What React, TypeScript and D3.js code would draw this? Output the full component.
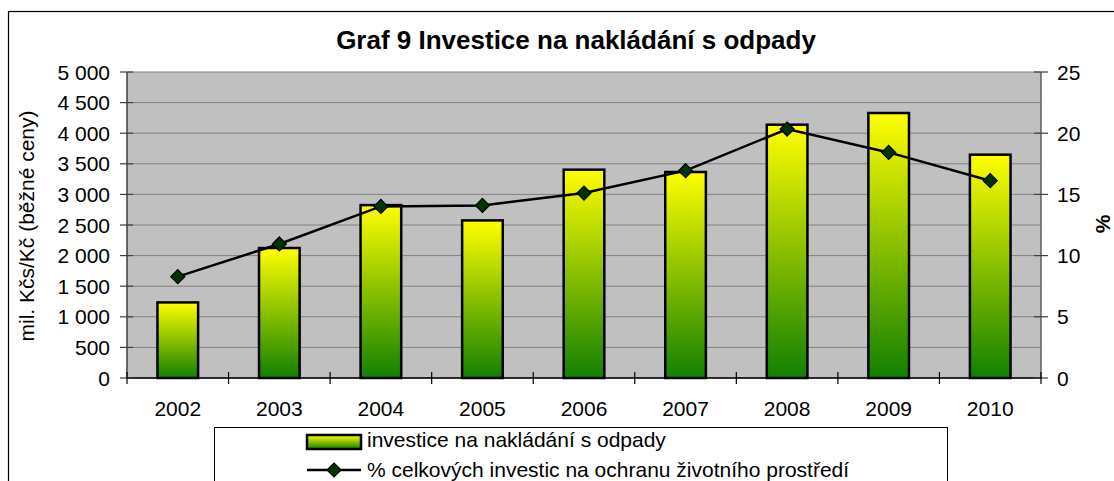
import * as d3 from "d3";

const years = ["2002", "2003", "2004", "2005", "2006", "2007", "2008", "2009", "2010"];
const investice = [1235, 2124, 2825, 2575, 3404, 3366, 4139, 4330, 3649];
const podil = [8.28, 10.95, 14.02, 14.1, 15.11, 16.94, 20.34, 18.43, 16.12];
const leftTicks = [0, 500, 1000, 1500, 2000, 2500, 3000, 3500, 4000, 4500, 5000];
const rightTicks = [0, 5, 10, 15, 20, 25];

const W = 1114;
const H = 481;
const plot = { left: 127, right: 1041, top: 72, bottom: 378 };
const font = "Arial, 'Liberation Sans', sans-serif";

const App = () => {
  const x = d3.scaleBand().domain(years).range([plot.left, plot.right]).paddingInner(0.6).paddingOuter(0.3);
  const band = d3.scaleBand().domain(years).range([plot.left, plot.right]);
  const yL = d3.scaleLinear().domain([0, 5000]).range([plot.bottom, plot.top]);
  const yR = d3.scaleLinear().domain([0, 25]).range([plot.bottom, plot.top]);

  const line = d3
    .line<number>()
    .x((_, i) => band(years[i])! + band.bandwidth() / 2)
    .y((d) => yR(d));

  const diamond = (cx: number, cy: number, r: number) =>
    `M${cx},${cy - r}L${cx + r},${cy}L${cx},${cy + r}L${cx - r},${cy}Z`;

  const fmt = (v: number) => d3.format(",")(v).replace(/,/g, " ");

  return (
    <svg width={W} height={H} style={{ position: "absolute", left: 0, top: 0 }} fontFamily={font}>
      <defs>
        <linearGradient id="barGrad" x1="0" y1="0" x2="0" y2="1">
          <stop offset="0" stopColor="#ffff00" />
          <stop offset="1" stopColor="#138000" />
        </linearGradient>
      </defs>
      <rect x={0} y={0} width={W} height={H} fill="#fff" />
      {/* outer chart border */}
      <rect x={8.5} y={11.5} width={W + 10} height={H} fill="none" stroke="#000" strokeWidth={1.2} />

      <text x={(plot.left + plot.right) / 2 - 8} y={49} textAnchor="middle" fontSize={26} fontWeight="bold">
        Graf 9 Investice na nakládání s odpady
      </text>

      {/* plot area */}
      <rect x={plot.left} y={plot.top} width={plot.right - plot.left} height={plot.bottom - plot.top} fill="#c0c0c0" />
      {leftTicks.map((t) => (
        <line key={t} x1={plot.left} x2={plot.right} y1={yL(t)} y2={yL(t)} stroke="#808080" strokeWidth={1} />
      ))}

      {/* bars */}
      {investice.map((v, i) => (
        <rect
          key={years[i]}
          x={x(years[i])}
          y={yL(v)}
          width={x.bandwidth()}
          height={plot.bottom - yL(v)}
          fill="url(#barGrad)"
          stroke="#000"
          strokeWidth={2.5}
        />
      ))}

      {/* line series */}
      <path d={line(podil) || ""} fill="none" stroke="#000" strokeWidth={2.5} />
      {podil.map((v, i) => (
        <path
          key={years[i]}
          d={diamond(band(years[i])! + band.bandwidth() / 2, yR(v), 7)}
          fill="#003300"
          stroke="#000"
          strokeWidth={1.2}
        />
      ))}

      {/* axes */}
      <line x1={plot.left} x2={plot.left} y1={plot.top} y2={plot.bottom} stroke="#404040" strokeWidth={1.5} />
      <line x1={plot.right} x2={plot.right} y1={plot.top} y2={plot.bottom} stroke="#606060" strokeWidth={1.5} />
      <line x1={plot.left} x2={plot.right} y1={plot.bottom} y2={plot.bottom} stroke="#000" strokeWidth={1.5} />

      {leftTicks.map((t) => (
        <g key={t}>
          <line x1={plot.left - 7} x2={plot.left + 6} y1={yL(t)} y2={yL(t)} stroke="#404040" strokeWidth={1.2} />
          <text x={110} y={yL(t)} dy="0.36em" textAnchor="end" fontSize={21}>
            {fmt(t)}
          </text>
        </g>
      ))}
      {rightTicks.map((t) => (
        <g key={t}>
          <line x1={plot.right - 7} x2={plot.right + 7} y1={yR(t)} y2={yR(t)} stroke="#404040" strokeWidth={1.2} />
          <text x={1057} y={yR(t)} dy="0.36em" textAnchor="start" fontSize={21}>
            {t}
          </text>
        </g>
      ))}
      {years.map((yr, i) => (
        <g key={yr}>
          <line
            x1={band(yr)!}
            x2={band(yr)!}
            y1={plot.bottom - 6}
            y2={plot.bottom + 6}
            stroke="#000"
            strokeWidth={1.2}
          />
          {i === years.length - 1 && (
            <line x1={plot.right} x2={plot.right} y1={plot.bottom - 6} y2={plot.bottom + 6} stroke="#000" strokeWidth={1.2} />
          )}
          <text x={band(yr)! + band.bandwidth() / 2} y={416} textAnchor="middle" fontSize={21}>
            {yr}
          </text>
        </g>
      ))}

      <text transform="translate(34,226) rotate(-90)" textAnchor="middle" fontSize={21}>
        mil. Kčs/Kč (běžné ceny)
      </text>
      <text transform="translate(1110,224) rotate(-90)" textAnchor="middle" fontSize={21} fontWeight="bold">
        %
      </text>

      {/* legend */}
      <rect x={214.5} y={427.5} width={733} height={80} fill="#fff" stroke="#000" strokeWidth={1} />
      <rect x={307} y={435} width={54} height={14} fill="url(#barGrad)" stroke="#000" strokeWidth={2.5} />
      <text x={367} y={447} fontSize={21}>
        investice na nakládání s odpady
      </text>
      <line x1={307} x2={361} y1={470} y2={470} stroke="#000" strokeWidth={2.5} />
      <path d={diamond(334, 470, 7)} fill="#003300" stroke="#000" strokeWidth={1.2} />
      <text x={367} y={477} fontSize={21}>
        % celkových investic na ochranu životního prostředí
      </text>
    </svg>
  );
};

export default App;
